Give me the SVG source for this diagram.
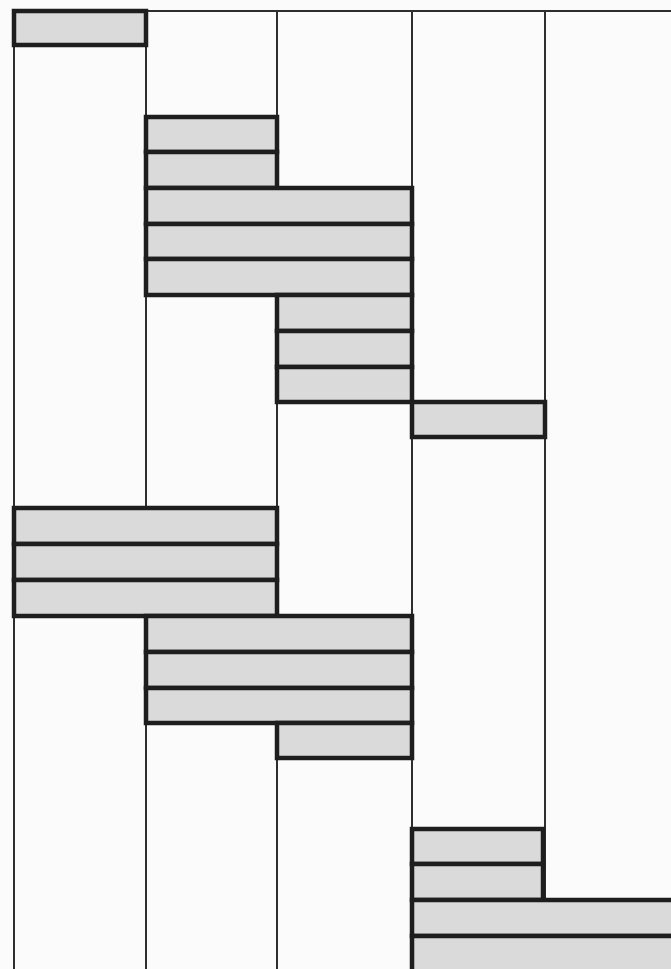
<svg xmlns="http://www.w3.org/2000/svg" width="671" height="969" viewBox="0 0 671 969">
<style>
.grid{stroke:#2e2e2e;stroke-width:2;fill:none}
.bar{fill:#dadada;stroke:#1e1e1e;stroke-width:4.5}
</style>
<rect width="671" height="969" fill="#fbfbfb"/>
<g id="grid">
<line class="grid" x1="14" y1="11" x2="671" y2="11"/>
<line class="grid" x1="14" y1="11" x2="14" y2="969"/>
<line class="grid" x1="146" y1="11" x2="146" y2="969"/>
<line class="grid" x1="277" y1="11" x2="277" y2="969"/>
<line class="grid" x1="412" y1="11" x2="412" y2="969"/>
<line class="grid" x1="545" y1="11" x2="545" y2="969"/>
</g>
<g id="bar1"><rect class="bar" x="14" y="11" width="132" height="34"/></g>
<g id="bar2"><rect class="bar" x="146" y="117" width="131" height="35"/></g>
<g id="bar3"><rect class="bar" x="146" y="152" width="131" height="36"/></g>
<g id="bar4"><rect class="bar" x="146" y="188" width="266" height="36"/></g>
<g id="bar5"><rect class="bar" x="146" y="224" width="266" height="35"/></g>
<g id="bar6"><rect class="bar" x="146" y="259" width="266" height="36"/></g>
<g id="bar7"><rect class="bar" x="277" y="295" width="135" height="36"/></g>
<g id="bar8"><rect class="bar" x="277" y="331" width="135" height="36"/></g>
<g id="bar9"><rect class="bar" x="277" y="367" width="135" height="35"/></g>
<g id="bar10"><rect class="bar" x="412" y="402" width="133" height="35"/></g>
<g id="bar11"><rect class="bar" x="14" y="508" width="263" height="36"/></g>
<g id="bar12"><rect class="bar" x="14" y="544" width="263" height="36"/></g>
<g id="bar13"><rect class="bar" x="14" y="580" width="263" height="36"/></g>
<g id="bar14"><rect class="bar" x="146" y="616" width="266" height="36"/></g>
<g id="bar15"><rect class="bar" x="146" y="652" width="266" height="36"/></g>
<g id="bar16"><rect class="bar" x="146" y="688" width="266" height="35"/></g>
<g id="bar17"><rect class="bar" x="277" y="723" width="135" height="35"/></g>
<g id="bar18"><rect class="bar" x="412" y="829" width="131" height="35"/></g>
<g id="bar19"><rect class="bar" x="412" y="864" width="131" height="36"/></g>
<g id="bar20"><rect class="bar" x="412" y="900" width="262" height="36"/></g>
<g id="bar21"><rect class="bar" x="412" y="936" width="262" height="36"/></g>
</svg>
